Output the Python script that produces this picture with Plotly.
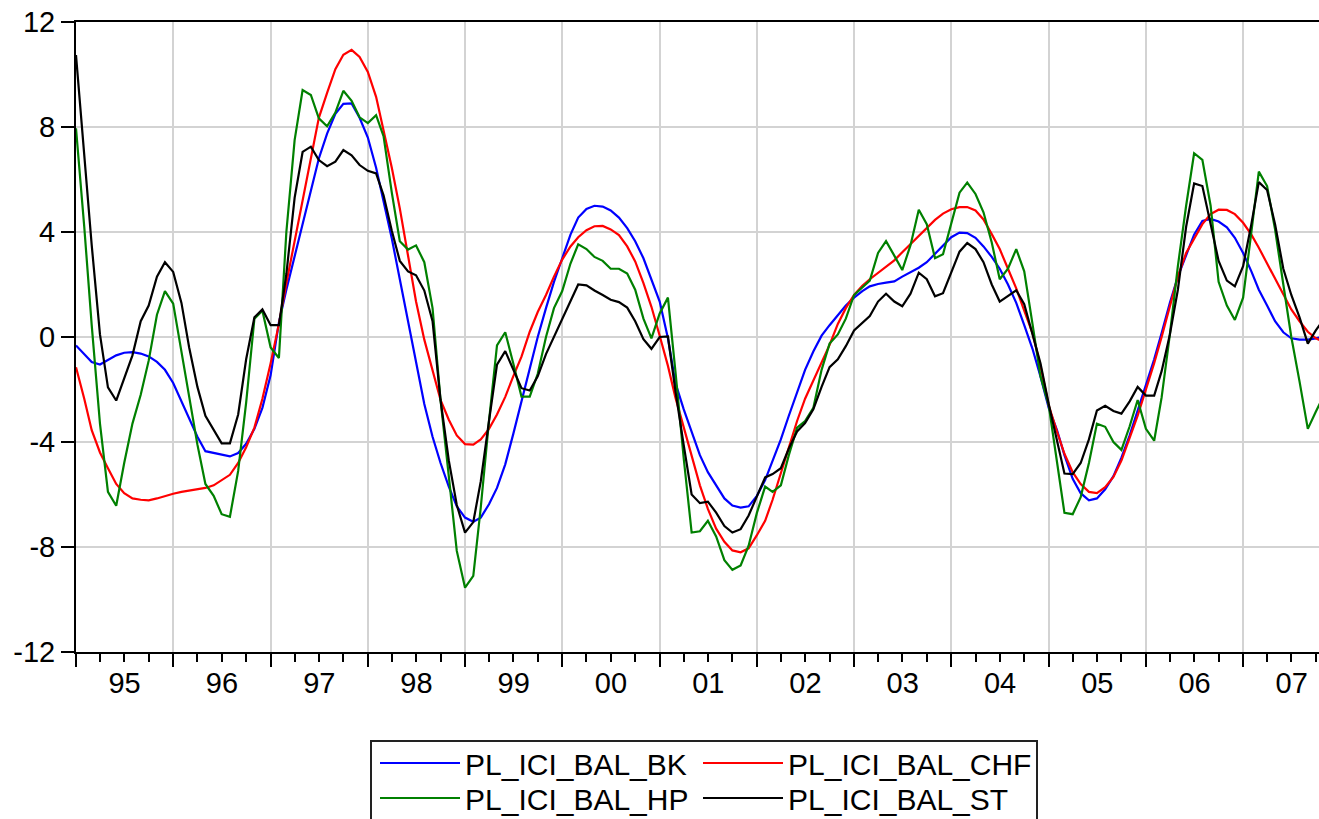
import pandas as pd
import plotly.graph_objects as go

# Monthly observations, January 1995 to November 2007
dates = pd.date_range("1995-01-01", periods=155, freq="MS")

pl_ici_bal_bk = [
    -0.32, -0.65, -0.95, -1.05, -0.88, -0.70, -0.60, -0.58, -0.63, -0.74, -0.95, -1.25,  # 1995
    -1.75, -2.45, -3.10, -3.80, -4.35, -4.42, -4.48, -4.55, -4.42, -4.07, -3.50, -2.70,  # 1996
    -1.45, 0.55, 1.80, 3.05, 4.30, 5.55, 6.80, 7.75, 8.50, 8.88, 8.90, 8.35,  # 1997
    7.60, 6.45, 5.15, 3.75, 2.20, 0.55, -1.05, -2.55, -3.80, -4.80, -5.70, -6.45,  # 1998
    -6.88, -7.04, -6.88, -6.37, -5.75, -4.85, -3.70, -2.45, -1.20, 0.00, 1.10, 2.10,  # 1999
    3.00, 3.90, 4.55, 4.88, 5.00, 4.97, 4.82, 4.55, 4.15, 3.65, 3.00, 2.20,  # 2000
    1.35, -0.05, -1.75, -2.75, -3.65, -4.50, -5.15, -5.65, -6.15, -6.42, -6.50, -6.45,  # 2001
    -6.05, -5.45, -4.75, -3.90, -3.00, -2.15, -1.25, -0.55, 0.05, 0.45, 0.85, 1.20,  # 2002
    1.50, 1.75, 1.93, 2.02, 2.07, 2.12, 2.30, 2.48, 2.64, 2.85, 3.18, 3.50,  # 2003
    3.80, 3.98, 3.96, 3.78, 3.45, 3.05, 2.60, 2.00, 1.30, 0.45, -0.45, -1.50,  # 2004
    -2.70, -3.55, -4.50, -5.40, -5.95, -6.22, -6.15, -5.80, -5.30, -4.60, -3.75, -2.80,  # 2005
    -1.80, -0.85, 0.15, 1.30, 2.30, 3.15, 3.90, 4.42, 4.50, 4.40, 4.18, 3.78,  # 2006
    3.20, 2.50, 1.80, 1.20, 0.60, 0.18, -0.05, -0.10, -0.10, -0.05, 0.02,  # 2007
]

pl_ici_bal_chf = [
    -1.15, -2.35, -3.55, -4.40, -5.00, -5.60, -5.95, -6.15, -6.20, -6.22, -6.15, -6.05,  # 1995
    -5.97, -5.90, -5.85, -5.80, -5.75, -5.65, -5.45, -5.25, -4.80, -4.20, -3.45, -2.35,  # 1996
    -1.00, 0.50, 2.05, 3.65, 5.25, 6.80, 8.35, 9.30, 10.20, 10.75, 10.94, 10.67,  # 1997
    10.10, 9.15, 7.90, 6.45, 4.90, 3.10, 1.35, -0.10, -1.25, -2.40, -3.15, -3.75,  # 1998
    -4.08, -4.10, -3.90, -3.50, -2.95, -2.28, -1.50, -0.75, 0.20, 0.95, 1.60, 2.30,  # 1999
    2.95, 3.45, 3.80, 4.07, 4.22, 4.23, 4.10, 3.88, 3.45, 2.88, 2.05, 1.15,  # 2000
    0.05, -1.10, -2.30, -3.40, -4.55, -5.65, -6.55, -7.30, -7.80, -8.13, -8.20, -8.05,  # 2001
    -7.55, -7.00, -6.20, -5.20, -4.20, -3.20, -2.35, -1.65, -1.00, -0.30, 0.50, 1.10,  # 2002
    1.60, 1.95, 2.20, 2.45, 2.66, 2.92, 3.23, 3.55, 3.85, 4.15, 4.46, 4.70,  # 2003
    4.87, 4.95, 4.95, 4.82, 4.48, 3.92, 3.35, 2.60, 1.85, 1.00, 0.15, -1.10,  # 2004
    -2.60, -3.60, -4.45, -5.15, -5.60, -5.90, -5.95, -5.72, -5.33, -4.71, -3.85, -3.00,  # 2005
    -2.00, -1.00, 0.00, 1.20, 2.30, 3.20, 3.75, 4.30, 4.68, 4.85, 4.84, 4.68,  # 2006
    4.35, 3.90, 3.40, 2.80, 2.25, 1.62, 1.05, 0.60, 0.20, -0.05, -0.20,  # 2007
]

pl_ici_bal_hp = [
    7.95, 4.20, 0.45, -3.30, -5.90, -6.43, -4.80, -3.30, -2.20, -0.90, 0.85, 1.75,  # 1995
    1.27, -0.60, -2.35, -4.10, -5.60, -6.05, -6.75, -6.85, -5.10, -2.50, 0.70, 1.00,  # 1996
    -0.40, -0.80, 4.00, 7.50, 9.41, 9.22, 8.33, 8.03, 8.55, 9.38, 9.00, 8.37,  # 1997
    8.15, 8.45, 7.65, 5.50, 3.65, 3.33, 3.49, 2.85, 1.10, -2.40, -5.30, -8.15,  # 1998
    -9.55, -9.10, -6.50, -3.20, -0.32, 0.18, -1.00, -2.27, -2.27, -1.40, 0.00, 1.10,  # 1999
    1.75, 2.80, 3.53, 3.35, 3.05, 2.90, 2.60, 2.60, 2.42, 1.80, 0.70, -0.05,  # 2000
    0.90, 1.50, -1.30, -4.60, -7.45, -7.40, -7.00, -7.60, -8.50, -8.87, -8.70, -7.95,  # 2001
    -6.70, -5.70, -5.90, -5.65, -4.50, -3.45, -3.20, -2.70, -1.25, -0.25, 0.10, 0.70,  # 2002
    1.60, 1.88, 2.15, 3.20, 3.65, 3.10, 2.55, 3.50, 4.85, 4.30, 3.00, 3.15,  # 2003
    4.30, 5.50, 5.88, 5.45, 4.75, 3.60, 2.20, 2.60, 3.35, 2.50, 0.50, -1.50,  # 2004
    -2.60, -4.70, -6.70, -6.75, -6.10, -4.80, -3.30, -3.42, -4.00, -4.30, -3.40, -2.40,  # 2005
    -3.50, -3.95, -2.30, 0.10, 2.70, 5.00, 7.00, 6.75, 5.00, 2.10, 1.20, 0.65,  # 2006
    1.50, 4.00, 6.30, 5.75, 4.10, 2.00, 0.00, -1.70, -3.50, -2.85, -2.20,  # 2007
]

pl_ici_bal_st = [
    10.74, 7.00, 3.50, 0.10, -1.92, -2.42, -1.60, -0.70, 0.60, 1.20, 2.30, 2.85,  # 1995
    2.48, 1.30, -0.40, -1.90, -3.00, -3.55, -4.05, -4.05, -2.95, -0.85, 0.75, 1.05,  # 1996
    0.45, 0.45, 2.40, 5.30, 7.05, 7.25, 6.74, 6.51, 6.68, 7.12, 6.92, 6.55,  # 1997
    6.33, 6.23, 5.40, 4.05, 2.90, 2.50, 2.35, 1.77, 0.60, -2.40, -4.70, -6.40,  # 1998
    -7.45, -7.05, -5.50, -3.20, -1.05, -0.54, -1.25, -1.95, -2.04, -1.50, -0.65, 0.00,  # 1999
    0.65, 1.35, 2.00, 1.97, 1.77, 1.60, 1.42, 1.33, 1.12, 0.60, -0.08, -0.45,  # 2000
    0.00, 0.02, -2.05, -4.10, -6.00, -6.33, -6.27, -6.69, -7.20, -7.45, -7.32, -6.80,  # 2001
    -6.05, -5.35, -5.22, -5.00, -4.25, -3.60, -3.28, -2.75, -1.90, -1.15, -0.85, -0.35,  # 2002
    0.25, 0.55, 0.80, 1.35, 1.65, 1.35, 1.17, 1.65, 2.45, 2.20, 1.55, 1.67,  # 2003
    2.45, 3.25, 3.58, 3.35, 2.85, 2.00, 1.35, 1.55, 1.78, 1.25, 0.05, -1.00,  # 2004
    -2.55, -4.00, -5.20, -5.22, -4.80, -3.90, -2.80, -2.62, -2.82, -2.92, -2.45, -1.90,  # 2005
    -2.23, -2.23, -1.30, 0.10, 1.80, 4.20, 5.85, 5.75, 4.30, 2.90, 2.15, 1.93,  # 2006
    2.70, 4.30, 5.90, 5.60, 4.30, 2.60, 1.60, 0.75, -0.25, 0.25, 0.70,  # 2007
]

series_names = ["PL_ICI_BAL_BK", "PL_ICI_BAL_CHF", "PL_ICI_BAL_HP", "PL_ICI_BAL_ST"]
series_values = [pl_ici_bal_bk, pl_ici_bal_chf, pl_ici_bal_hp, pl_ici_bal_st]
series_colors = ["#0000ff", "#ff0000", "#008000", "#000000"]

y_tick_vals = [-12, -8, -4, 0, 4, 8, 12]
y_tick_text = ["-12", "-8", "-4", "0", "4", "8", "12"]
x_range = ["1995-01-01", "2007-10-13"]

FONT = "Liberation Sans, Arial, sans-serif"
GRID = "#d3d3d3"

# plot area spans x 76..1319 px, y 22..652 px
PL, PT, PW, PH = 76, 22, 1243, 630


def px_x(px):
    return (px - PL) / PW


def px_y(py):
    return (PT + PH - py) / PH


# one single-entry legend per series, laid out as a 2 x 2 key below the chart
legend_ids = ["legend", "legend2", "legend3", "legend4"]
legend_pos = [(375, 763), (698, 763), (375, 798), (698, 798)]

fig = go.Figure()
for name, vals, color, leg in zip(series_names, series_values, series_colors, legend_ids):
    fig.add_trace(go.Scatter(
        x=dates, y=vals, mode="lines", name=name,
        line=dict(color=color, width=2.2),
        legend=leg, hoverinfo="skip",
    ))

legend_layout = {}
for leg, (lx, ly) in zip(legend_ids, legend_pos):
    legend_layout[leg] = dict(
        orientation="h", xanchor="left", yanchor="middle",
        x=px_x(lx), y=px_y(ly),
        itemwidth=80, bgcolor="rgba(0,0,0,0)", borderwidth=0,
        font=dict(family=FONT, size=30, color="black"),
    )

fig.update_layout(
    width=1319, height=819,
    margin=dict(l=PL, r=0, t=PT, b=819 - PT - PH, autoexpand=False),
    paper_bgcolor="white", plot_bgcolor="white",
    font=dict(family=FONT, size=29, color="black"),
    showlegend=True,
    **legend_layout,
    xaxis=dict(
        type="date", range=x_range,
        tick0="1995-01-01", dtick="M12", tickformat="%y",
        ticklabelmode="period", ticklabelstandoff=-9,
        ticks="outside", ticklen=13, tickwidth=1.5, tickcolor="black",
        showline=True, linecolor="black", linewidth=2, mirror=True,
        showgrid=True, gridcolor=GRID, gridwidth=1.5,
        zeroline=False,
        tickfont=dict(family=FONT, size=29, color="black"),
        minor=dict(dtick="M3", ticks="outside", ticklen=8, tickwidth=1.5,
                   tickcolor="black", showgrid=False),
    ),
    yaxis=dict(
        range=[-12, 12], tickmode="array",
        tickvals=y_tick_vals, ticktext=y_tick_text,
        ticks="outside", ticklen=13, tickwidth=1.5, tickcolor="black",
        showline=True, linecolor="black", linewidth=2,
        showgrid=True, gridcolor=GRID, gridwidth=1.5,
        zeroline=False,
        tickfont=dict(family=FONT, size=29, color="black"),
    ),
    shapes=[dict(
        type="rect", xref="paper", yref="paper",
        x0=px_x(371), x1=px_x(1037), y0=px_y(835), y1=px_y(741),
        line=dict(color="#222222", width=2), fillcolor="rgba(0,0,0,0)",
        layer="above",
    )],
)

fig.write_html("out.html", config={"displayModeBar": False})
